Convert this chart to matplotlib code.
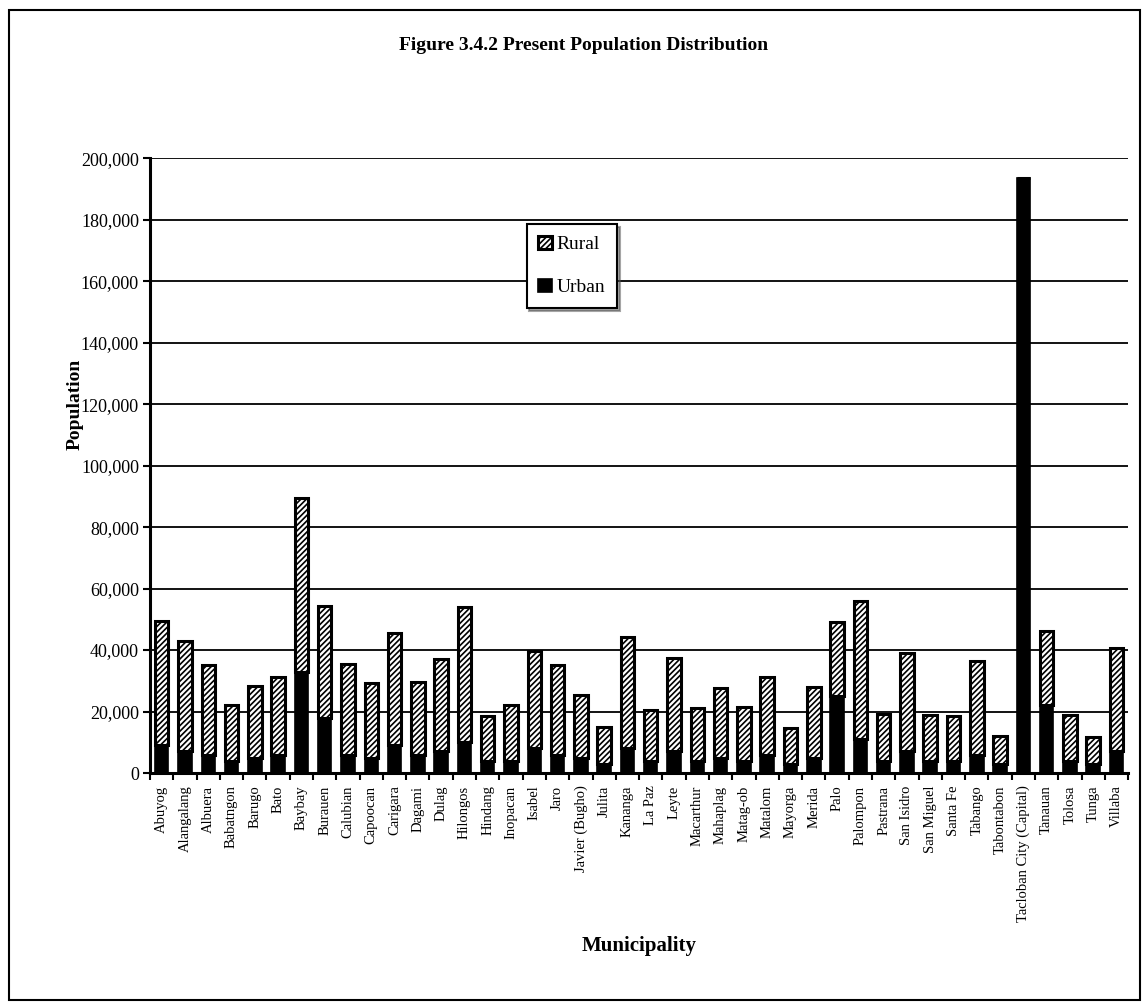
import numpy as np
import matplotlib
matplotlib.use("Agg")
import matplotlib.pyplot as plt
from matplotlib.patches import Rectangle
from matplotlib.ticker import FuncFormatter

plt.rcParams['font.family'] = ['Liberation Serif', 'DejaVu Serif']
plt.rcParams['hatch.linewidth'] = 1.2

# municipalities of Leyte
municipios = ["Abuyog", "Alangalang", "Albuera", "Babatngon", "Barugo", "Bato",
              "Baybay", "Burauen", "Calubian", "Capoocan", "Carigara", "Dagami",
              "Dulag", "Hilongos", "Hindang", "Inopacan", "Isabel", "Jaro",
              "Javier (Bugho)", "Julita", "Kananga", "La Paz", "Leyte",
              "Macarthur", "Mahaplag", "Matag-ob", "Matalom", "Mayorga", "Merida",
              "Palo", "Palompon", "Pastrana", "San Isidro", "San Miguel",
              "Santa Fe", "Tabango", "Tabontabon", "Tacloban City (Capital)",
              "Tanauan", "Tolosa", "Tunga", "Villaba"]

urban = [9000, 7000, 6000, 4000, 5000, 6000,
         33000, 18000, 6000, 5000, 9000, 6000,
         7000, 10000, 4000, 4000, 8000, 6000,
         5000, 3000, 8000, 4000, 7000,
         4000, 5000, 4000, 6000, 3000, 5000,
         25000, 11000, 4000, 7000, 4000,
         4000, 6000, 3000, 193500,
         22000, 4000, 3000, 7000]

total = [49500, 43000, 35000, 22000, 28300, 31300,
         89500, 54500, 35500, 29300, 45500, 29500,
         37000, 54000, 18700, 22000, 39800, 35300,
         25300, 15000, 44300, 20500, 37500,
         21300, 27500, 21500, 31300, 14600, 28000,
         49000, 56000, 19300, 39200, 18800,
         18500, 36500, 12000, 193500,
         46300, 18800, 11800, 40800]

rural = [t - u for t, u in zip(total, urban)]

fig = plt.figure(figsize=(11.48, 10.06), dpi=100)
ax = fig.add_axes([0.1307, 0.2316, 0.852, 0.611])

x = np.arange(len(municipios))
ax.bar(x, urban, width=0.58, color='black', edgecolor='black', linewidth=1.2,
       label='Urban', zorder=3)
ax.bar(x, rural, bottom=urban, width=0.58, color='white', edgecolor='black',
       hatch='//////', linewidth=2.2, label='Rural', zorder=3)

ax.set_ylim(0, 200000)
ax.set_xlim(-0.5, len(municipios) - 0.5)
ax.set_yticks(np.arange(0, 200001, 20000))
ax.yaxis.set_major_formatter(FuncFormatter(lambda v, p: f"{int(v):,}"))
ax.yaxis.grid(True, color='black', linewidth=1.3, zorder=0)
ax.set_axisbelow(True)

ax.set_xticks(x)
ax.set_xticklabels(municipios, rotation=90, fontsize=10.5)
ax.set_xticks(np.arange(-0.5, len(municipios), 1), minor=True)
ax.tick_params(axis='x', which='major', length=0, pad=9)
ax.tick_params(axis='x', which='minor', length=5, width=1.5, direction='out')
ax.tick_params(axis='y', labelsize=13, length=5, width=1.5, pad=3)

for s in ['top', 'right']:
    ax.spines[s].set_visible(False)
ax.spines['left'].set_linewidth(2.2)
ax.spines['bottom'].set_linewidth(2.2)

ax.set_ylabel("Population", fontsize=14, fontweight='bold')
ax.yaxis.set_label_coords(-0.068, 0.6)
fig.text(0.557, 0.06, "Municipality", ha='center', va='center',
         fontsize=15, fontweight='bold')
fig.text(0.508, 0.955, "Figure 3.4.2 Present Population Distribution",
         ha='center', va='center', fontsize=14, fontweight='bold')

handles, labels = ax.get_legend_handles_labels()
leg = ax.legend(handles[::-1], labels[::-1], loc='upper left',
                bbox_to_anchor=(0.385, 0.893), fontsize=14, frameon=True,
                fancybox=False, shadow=True, edgecolor='black',
                handlelength=0.7, handleheight=0.7, handletextpad=0.25,
                labelspacing=1.3, borderpad=0.6, borderaxespad=0)
leg.get_frame().set_linewidth(1.5)
leg.set_zorder(5)

# outer frame
fig.patches.append(Rectangle((0.008, 0.006), 0.985, 0.984, transform=fig.transFigure,
                             fill=False, edgecolor='black', linewidth=1.5))

fig.savefig("out.png", dpi=100, facecolor='white')
